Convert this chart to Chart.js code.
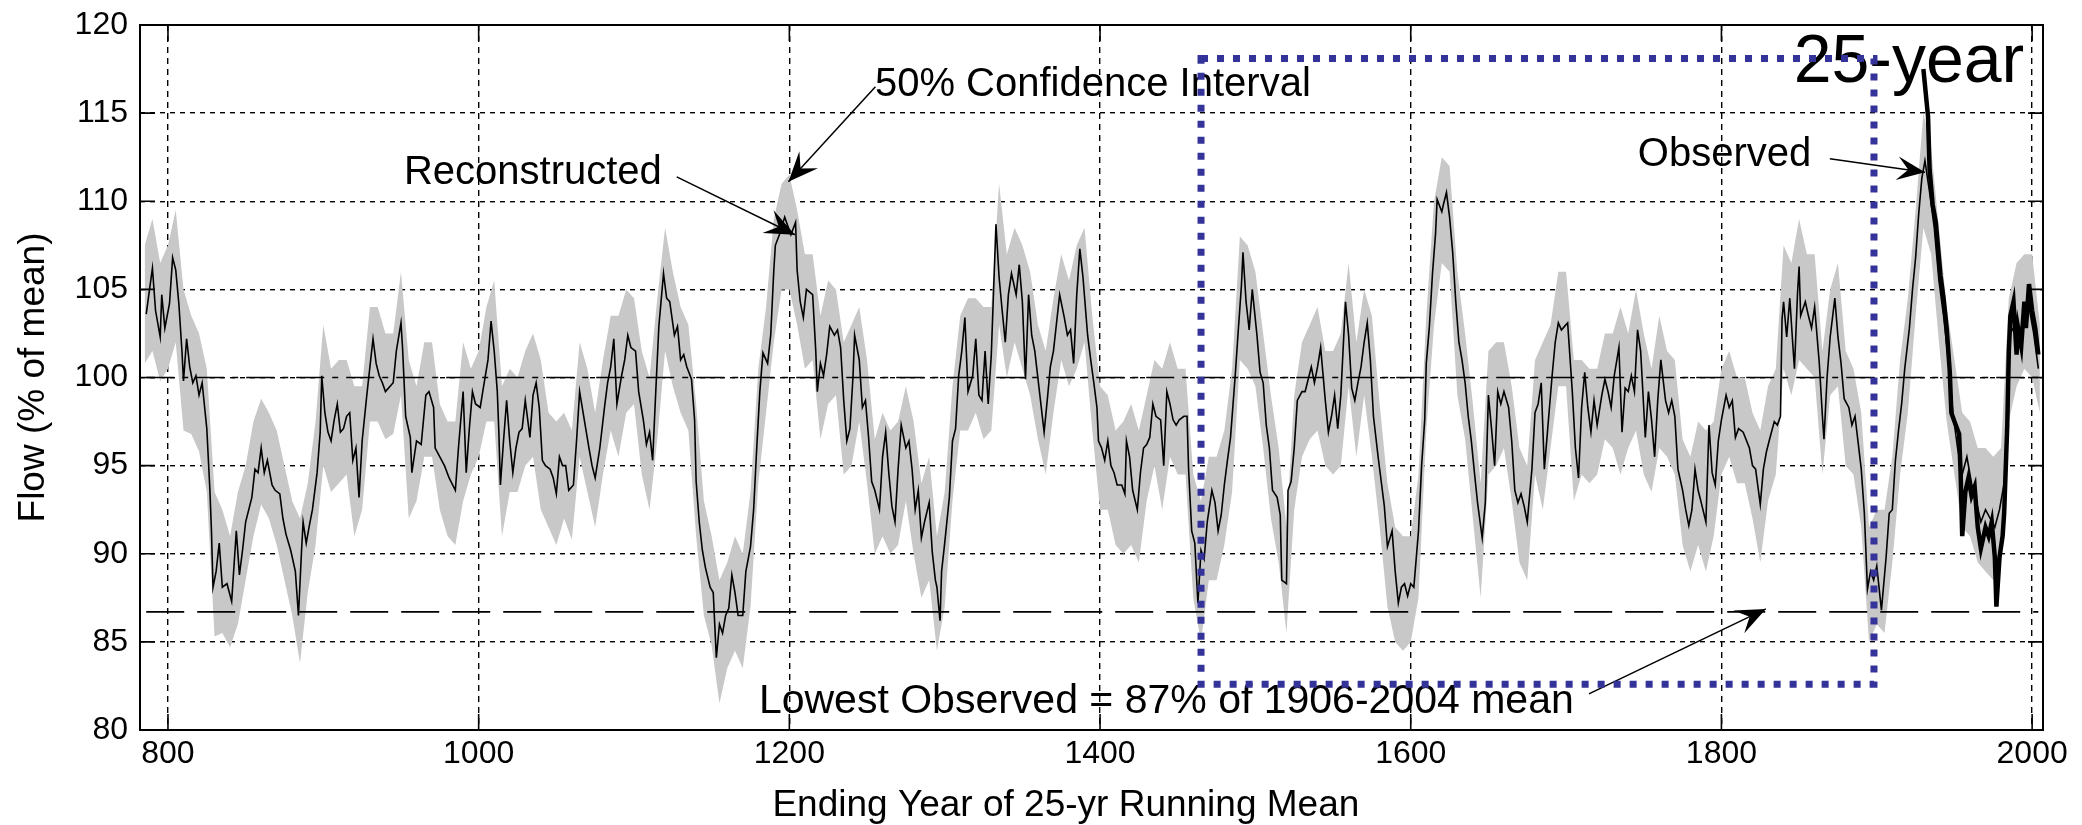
<!DOCTYPE html>
<html>
<head>
<meta charset="utf-8">
<title>Flow, 25-yr running mean</title>
<script src="https://cdn.jsdelivr.net/npm/chart.js@4.4.1/dist/chart.umd.min.js"></script>
<style>
  html, body { margin: 0; padding: 0; background: #fff; }
</style>
</head>
<body>
<canvas id="chart_canvas" width="2082" height="825"></canvas>
<script>
// ending year of the 25-yr running mean, reconstructed flow (% of mean)
const reconYears = [
  786,790,792,795,796,798,801,803,805,807, 809,810,812,814,816,818,820,822,825,827,
  828,829,831,833,835,838,841,844,846,848, 850,854,856,858,860,862,864,867,869,872,
  874,876,879,882,884,886,887,889,891,893, 896,898,899,901,903,905,907,909,911,913,
  915,917,919,921,923,925,928,930,932,934, 936,938,940,943,945,947,950,951,953,956,
  957,960,963,966,968,971,972,975,978,981, 985,987,990,992,994,996,998,1001,1003,1006,
  1008,1010,1012,1013,1014,1016,1018,1020,1022,1024, 1026,1028,1030,1033,1035,1037,1039,1041,1043,1046,
  1048,1050,1052,1054,1056,1058,1061,1063,1065,1068, 1071,1073,1075,1078,1081,1083,1085,1087,1089,1092,
  1094,1096,1098,1101,1103,1106,1108,1110,1112,1114, 1116,1119,1121,1123,1126,1128,1130,1132,1134,1137,
  1139,1140,1142,1144,1146,1149,1151,1153,1155,1157, 1159,1161,1163,1165,1167,1170,1172,1175,1177,1179,
  1181,1183,1186,1188,1190,1191,1194,1197,1201,1204, 1205,1207,1209,1211,1215,1217,1218,1220,1222,1224,
  1226,1229,1231,1233,1235,1237,1239,1241,1242,1245, 1247,1249,1251,1253,1255,1258,1260,1262,1264,1266,
  1268,1270,1272,1275,1277,1279,1281,1283,1285,1287, 1290,1292,1294,1295,1297,1298,1300,1303,1305,1307,
  1309,1311,1313,1315,1318,1320,1322,1324,1326,1328, 1330,1333,1335,1337,1339,1341,1343,1346,1348,1350,
  1352,1354,1356,1358,1361,1364,1366,1368,1370,1372, 1374,1377,1379,1381,1383,1385,1387,1389,1392,1394,
  1396,1398,1399,1401,1403,1405,1407,1409,1411,1414, 1416,1417,1419,1421,1424,1426,1428,1430,1432,1434,
  1436,1439,1441,1443,1445,1447,1449,1451,1454,1456, 1457,1459,1461,1463,1465,1467,1469,1472,1474,1476,
  1478,1480,1482,1484,1487,1489,1491,1492,1494,1496, 1498,1501,1503,1505,1507,1509,1511,1514,1516,1517,
  1520,1521,1523,1525,1527,1530,1532,1534,1536,1538, 1540,1542,1545,1547,1549,1551,1553,1555,1558,1560,
  1562,1564,1566,1568,1570,1572,1574,1576,1579,1581, 1583,1585,1588,1590,1592,1594,1596,1598,1600,1602,
  1605,1607,1609,1610,1612,1614,1616,1617,1620,1621, 1623,1625,1627,1629,1631,1633,1635,1637,1639,1641,
  1643,1646,1648,1650,1652,1654,1656,1658,1660,1663, 1665,1667,1669,1671,1673,1675,1678,1680,1682,1684,
  1686,1688,1691,1693,1695,1697,1699,1701,1704,1706, 1708,1710,1712,1714,1716,1718,1720,1723,1725,1727,
  1729,1731,1734,1736,1738,1740,1742,1744,1746,1748, 1751,1753,1755,1757,1759,1761,1764,1766,1768,1770,
  1772,1775,1777,1779,1781,1783,1785,1787,1790,1792, 1794,1796,1798,1800,1803,1805,1807,1809,1811,1814,
  1818,1820,1822,1825,1827,1829,1831,1834,1836,1838, 1839,1840,1842,1844,1846,1847,1849,1850,1851,1854,
  1856,1858,1860,1863,1865,1866,1868,1870,1873,1875, 1877,1879,1882,1884,1886,1888,1890,1892,1894,1896,
  1898,1900,1903,1906,1908,1910,1912,1914,1916,1918, 1921,1923,1925,1927,1929,1931,1934,1937,1940,1943,
  1946,1949,1952,1955,1958,1961,1964,1967,1970,1973, 1976,1979,1982,1984,1986,1989,1992,1995,1998,2001,
  2004
];
const reconFlow = [
  103.6,106.2,103.8,102.3,104.7,102.8,104.2,106.8,106.1,104.2, 101.5,99.8,102.2,100.6,99.7,100.1,99.0,99.7,97.1,93.6,
  91.3,88.1,89.0,90.6,88.1,88.3,87.3,91.3,88.8,90.2, 91.8,93.2,94.8,94.6,96.0,94.6,95.3,93.9,93.6,93.4,
  92.0,91.1,90.2,89.0,86.5,90.2,91.8,90.6,91.6,92.5, 94.6,96.9,100.1,98.0,96.9,96.4,97.6,98.5,96.9,97.1,
  97.8,98.0,95.3,96.0,93.2,96.4,99.0,100.6,102.2,100.8, 100.1,99.7,99.2,99.5,99.7,101.5,103.1,101.7,97.8,96.6,
  94.6,96.4,96.2,99.0,99.2,98.3,96.0,95.5,95.0,94.3, 93.6,96.0,99.2,94.6,97.1,99.2,98.5,98.3,99.4,101.0,
  103.2,101.5,99.2,96.9,93.9,96.4,98.7,96.4,94.6,96.0, 96.9,97.1,98.7,96.6,99.0,99.7,98.3,95.3,95.0,94.8,
  94.3,93.4,95.5,95.0,95.0,93.6,93.9,96.4,99.2,97.6, 96.0,95.0,94.3,96.0,98.3,99.7,100.6,102.2,98.5,100.1,
  101.0,102.4,101.7,101.5,99.2,97.6,96.2,96.9,95.3,99.2, 102.9,105.9,104.5,104.3,102.4,102.9,101.0,101.3,100.6,99.9,
  97.6,94.1,91.8,90.2,89.2,88.1,87.8,84.1,86.0,85.5, 86.5,86.9,88.8,87.8,86.5,86.5,89.0,90.4,92.5,96.0,
  99.2,101.4,100.8,102.4,106.1,107.5,108.2,109.1,108.1,108.8, 106.1,104.3,103.4,105.0,104.7,101.5,99.2,100.8,100.1,101.3,
  102.9,102.4,102.7,101.7,98.7,96.4,97.1,100.1,102.4,101.0, 98.3,98.7,96.6,94.1,93.6,92.5,95.5,96.9,94.6,92.7,
  91.8,94.8,97.3,96.0,96.4,94.8,92.5,93.6,90.9,91.8, 92.9,90.1,88.5,88.1,86.2,89.0,90.6,93.2,96.4,97.1,
  100.1,101.5,103.4,99.2,100.1,102.2,99.0,98.7,101.5,98.5, 101.3,108.7,105.7,103.8,102.0,104.7,105.9,104.7,106.4,104.3,
  99.9,104.7,102.4,101.5,99.2,96.9,98.7,100.6,101.5,103.1, 104.7,103.4,102.4,102.7,100.8,104.7,107.3,105.7,102.4,101.0,
  99.7,98.3,96.4,96.0,95.3,96.4,95.0,94.6,93.9,93.9, 93.4,96.4,95.5,93.6,92.5,94.6,96.0,96.2,96.6,98.5,
  97.8,97.6,95.0,99.2,98.5,97.6,97.3,97.6,97.8,97.8, 94.8,91.3,90.6,87.2,90.2,89.7,91.8,93.6,92.9,91.3,
  92.2,93.9,95.3,96.6,100.1,102.7,105.2,107.1,104.3,102.7, 105.0,102.4,100.3,99.7,97.3,96.0,93.6,93.2,92.2,88.5,
  88.3,93.6,94.1,96.0,98.7,99.2,99.2,99.9,100.6,99.7, 100.6,101.7,98.7,96.9,97.8,99.0,97.1,99.0,104.3,102.4,
  99.4,98.7,99.7,100.6,102.0,103.1,101.0,97.8,95.5,94.1, 92.7,90.4,91.3,89.0,87.2,88.1,88.3,87.6,88.3,88.1,
  91.3,95.0,97.6,100.8,102.9,105.9,108.2,110.1,109.4,109.8, 110.5,109.1,107.1,104.3,102.0,101.0,99.7,97.8,96.4,94.6,
  92.9,90.9,92.9,99.0,97.1,95.0,99.2,98.5,99.2,98.3, 96.4,93.6,92.9,93.4,92.7,91.8,94.8,98.0,98.5,99.7,
  94.8,96.9,100.1,102.0,103.1,102.7,102.9,103.1,99.2,96.0, 94.3,98.3,100.3,98.3,96.9,98.7,97.3,99.0,99.9,99.2,
  98.3,100.1,101.7,96.9,99.4,99.2,100.1,99.2,102.7,101.5, 96.6,99.2,97.6,95.5,98.7,101.0,98.7,98.0,98.7,97.8,
  94.8,93.6,92.5,91.6,92.5,94.8,93.6,92.9,91.8,97.3, 94.6,93.9,96.4,97.6,99.0,98.3,98.7,96.6,97.1,96.9,
  96.0,95.0,94.8,92.8,94.8,95.8,96.5,97.5,97.3,97.8, 103.3,104.3,102.3,104.5,101.8,100.5,104.8,106.3,103.5,104.3,
  103.5,102.8,104.0,100.8,97.8,96.5,100.0,102.3,104.5,102.3, 100.8,98.8,98.3,97.3,97.8,96.3,94.8,92.3,88.0,89.0,
  88.5,89.3,86.8,89.8,92.3,92.5,95.3,97.0,98.5,100.5, 102.8,105.0,106.8,109.3,111.3,112.3,110.5,108.5,105.5,103.5,
  101.0,98.0,96.0,94.5,95.5,94.0,93.0,91.8,92.5,92.0, 91.5,92.5,94.0,98.0,102.5,103.0,102.0,103.5,104.0,102.5,
  100.5
];

// 50% confidence interval of the reconstruction (grey band)
const bandYears = [
  785,790,795,800,805,810,815,820,825,830, 835,840,845,850,855,860,865,870,875,880,
  885,890,895,900,905,910,915,920,925,930, 935,940,945,950,955,960,965,970,975,980,
  985,990,995,1000,1005,1010,1015,1020,1025,1030, 1035,1040,1045,1050,1055,1060,1065,1070,1075,1080,
  1085,1090,1095,1100,1105,1110,1115,1120,1125,1130, 1135,1140,1145,1150,1155,1160,1165,1170,1175,1180,
  1185,1190,1195,1200,1205,1210,1215,1220,1225,1230, 1235,1240,1245,1250,1255,1260,1265,1270,1275,1280,
  1285,1290,1295,1300,1305,1310,1315,1320,1325,1330, 1335,1340,1345,1350,1355,1360,1365,1370,1375,1380,
  1385,1390,1395,1400,1405,1410,1415,1420,1425,1430, 1435,1440,1445,1450,1455,1460,1465,1470,1475,1480,
  1485,1490,1495,1500,1505,1510,1515,1520,1525,1530, 1535,1540,1545,1550,1555,1560,1565,1570,1575,1580,
  1585,1590,1595,1600,1605,1610,1615,1620,1625,1630, 1635,1640,1645,1650,1655,1660,1665,1670,1675,1680,
  1685,1690,1695,1700,1705,1710,1715,1720,1725,1730, 1735,1740,1745,1750,1755,1760,1765,1770,1775,1780,
  1785,1790,1795,1800,1805,1810,1815,1820,1825,1830, 1835,1840,1845,1850,1855,1860,1865,1870,1875,1880,
  1885,1890,1895,1900,1905,1910,1915,1920,1925,1930, 1935,1940,1945,1950,1955,1960,1965,1970,1975,1980,
  1985,1990,1995,2000,2005
];
const bandUpper = [
  107.5,109.0,106.5,107.5,109.5,105.0,103.5,102.5,100.5,93.5, 92.5,91.0,93.5,95.0,97.5,98.8,98.0,97.0,95.0,93.0,
  92.0,94.0,97.5,103.0,100.5,101.0,101.0,99.5,99.5,104.0, 104.0,102.5,102.5,106.0,101.0,99.5,102.0,102.0,98.5,97.5,
  97.5,102.0,100.5,101.5,104.0,105.5,99.5,100.5,100.0,101.5, 102.5,101.0,98.0,97.5,98.0,97.0,102.0,100.5,98.0,101.0,
  103.5,103.5,105.0,104.5,101.5,100.0,104.5,108.5,106.0,104.0, 103.0,98.5,93.0,91.0,88.5,89.5,91.0,90.0,93.5,100.5,
  104.0,109.0,111.0,111.5,109.5,107.0,107.0,103.5,105.5,105.0, 102.0,103.0,104.0,101.0,96.5,98.0,97.0,97.5,99.5,97.5,
  94.0,95.5,91.0,93.5,99.5,103.5,104.5,104.5,104.0,104.0, 111.0,107.0,108.5,107.5,106.0,103.0,101.5,104.5,107.0,105.5,
  107.5,108.5,103.5,99.5,99.0,97.0,97.5,98.5,97.0,99.0, 101.0,100.5,102.0,100.5,100.5,94.5,93.0,95.5,95.5,97.0,
  100.5,108.0,107.5,106.0,102.5,99.0,96.0,91.5,99.0,102.0, 103.0,104.0,101.5,101.5,102.5,106.5,102.0,105.0,103.5,98.5,
  94.0,91.5,91.0,91.0,94.5,103.5,110.0,112.5,112.0,106.0, 102.5,98.5,94.0,101.5,102.0,102.0,99.5,96.0,95.0,101.0,
  102.0,103.0,106.0,106.0,101.0,101.0,100.5,100.5,102.5,102.5, 104.0,102.5,105.0,102.5,100.5,103.5,101.5,101.0,96.5,95.5,
  97.5,97.0,97.5,100.5,101.5,100.0,100.0,98.0,97.0,99.5, 100.5,107.5,106.5,109.0,107.0,107.0,101.5,105.0,106.5,101.5,
  100.5,98.0,91.5,92.5,92.5,95.5,101.0,104.5,109.5,115.0, 113.0,108.5,104.0,101.0,98.0,97.5,96.0,96.0,95.5,96.0,
  104.5,106.5,107.0,107.0,103.0
];
const bandLower = [
  100.8,101.5,99.8,100.5,102.0,97.0,96.8,95.8,93.5,85.3, 85.5,84.7,86.0,88.5,91.0,92.8,92.0,90.5,88.5,86.5,
  83.8,87.8,90.5,95.0,93.5,94.0,94.5,91.0,92.5,97.5, 97.5,96.5,96.8,99.0,92.0,93.0,95.5,95.5,92.5,91.0,
  90.5,93.0,94.5,95.5,97.5,97.5,91.0,93.5,93.5,95.0, 95.5,92.5,91.5,90.5,92.0,90.8,95.5,93.5,91.5,94.5,
  97.0,95.5,98.0,98.5,94.5,92.5,96.5,101.5,99.5,98.0, 97.0,91.0,86.5,84.8,81.5,83.5,84.5,83.5,87.0,94.0,
  98.0,102.0,105.0,105.0,103.0,100.5,101.0,96.5,98.5,99.0, 94.5,95.0,97.5,94.0,90.0,91.0,90.0,90.5,93.0,90.0,
  87.5,88.5,84.5,87.0,93.0,97.0,97.0,98.0,96.5,97.0, 103.0,100.0,102.0,100.5,99.0,96.5,94.5,98.0,101.0,99.5,
  100.5,102.0,97.0,92.5,92.5,90.5,90.0,90.5,89.5,93.0, 95.0,92.5,95.5,94.5,94.5,87.5,85.0,88.5,88.5,90.5,
  93.5,101.0,100.5,99.5,96.0,92.0,89.5,85.5,92.5,95.5, 96.5,97.0,95.0,94.5,95.0,99.5,95.5,99.0,95.5,91.5,
  87.0,85.0,84.5,85.0,87.5,97.0,103.0,106.5,106.0,99.0, 96.5,92.0,87.5,94.5,95.0,96.0,93.0,89.5,88.5,94.5,
  92.5,96.0,99.5,99.5,93.0,94.5,94.0,94.5,96.5,96.0, 94.5,96.0,97.0,94.5,93.5,96.0,95.5,94.5,90.5,89.0,
  90.5,89.0,91.0,94.5,95.5,94.0,94.0,92.0,89.5,93.0, 94.5,100.5,99.0,101.0,100.5,100.0,94.5,99.0,99.5,95.0,
  94.5,91.5,85.0,86.0,85.5,89.5,94.5,98.0,103.5,108.5, 107.0,102.0,97.5,94.5,91.5,91.0,89.5,89.0,88.5,89.5,
  97.5,99.5,100.5,100.0,98.0
];

// observed flow, 25-yr running mean (thick line)
const obsYears = [
  1930,1933,1934,1936,1938,1939,1941,1943,1945,1947, 1948,1950,1953,1954,1955,1957,1959,1961,1963,1965,
  1967,1970,1972,1974,1976,1977,1979,1981,1982,1984, 1985,1986,1988,1990,1991,1993,1995,1996,1998,2000,
  2002,2004
];
const obsFlow = [
  117.5,114.8,111.8,109.8,108.8,107.8,105.8,104.5,102.8,100.3, 98.0,97.5,96.8,94.5,91.0,93.5,94.3,93.3,93.8,91.5,
  90.3,91.5,91.0,91.8,89.8,87.0,89.8,91.0,92.3,97.3, 101.5,103.5,104.3,101.3,102.8,101.8,104.3,102.8,105.3,103.8,
  102.8,101.3
];

// reference levels
const refYears = [786, 2004];
const meanLevel = [100, 100];
const lowestObserved = [86.7, 86.7];

const xTicks = [800, 1000, 1200, 1400, 1600, 1800, 2000];
const yTicks = [80, 85, 90, 95, 100, 105, 110, 115, 120];

const FONT = "'Liberation Sans', Arial, Helvetica, sans-serif";

function toPoints(xs, ys)
{
  return xs.map((x, i) => ({x: x, y: ys[i]}));
}

function drawArrow(ctx, x1, y1, x2, y2, head)
{
  ctx.beginPath();
  ctx.moveTo(x1, y1);
  ctx.lineTo(x2, y2);
  ctx.stroke();
  const a = Math.atan2(y2 - y1, x2 - x1);
  const c = Math.cos(a), s = Math.sin(a);
  const w = head * 0.42;
  ctx.beginPath();
  ctx.moveTo(x2, y2);
  ctx.lineTo(x2 - head * c + w * s, y2 - head * s - w * c);
  ctx.lineTo(x2 - head * 0.6 * c, y2 - head * 0.6 * s);
  ctx.lineTo(x2 - head * c - w * s, y2 - head * s + w * c);
  ctx.closePath();
  ctx.fill();
}

// box, inner ticks, labels, arrows and the dotted highlight box
const overlay = {
  id: "overlay",
  afterDraw(chart)
  {
    const ctx = chart.ctx;
    const a = chart.chartArea;
    const xs = chart.scales.x, ys = chart.scales.y;
    const px = v => xs.getPixelForValue(v);
    const py = v => ys.getPixelForValue(v);

    ctx.save();
    ctx.strokeStyle = "#000";
    ctx.fillStyle = "#000";

    // inner tick marks on all four sides
    ctx.lineWidth = 1.6;
    ctx.setLineDash([]);
    ctx.beginPath();
    yTicks.forEach(v => {
      const y = py(v);
      ctx.moveTo(a.left, y); ctx.lineTo(a.left + 15, y);
      ctx.moveTo(a.right, y); ctx.lineTo(a.right - 15, y);
    });
    xTicks.forEach(v => {
      const x = px(v);
      ctx.moveTo(x, a.bottom); ctx.lineTo(x, a.bottom - 16);
      ctx.moveTo(x, a.top); ctx.lineTo(x, a.top + 16);
    });
    ctx.stroke();

    // plot box
    ctx.lineWidth = 2;
    ctx.strokeRect(a.left, a.top, a.right - a.left, a.bottom - a.top);

    // x axis title, centred a little left of the plot centre as in the original
    ctx.textAlign = "center";
    ctx.textBaseline = "alphabetic";
    ctx.font = "37px " + FONT;
    ctx.fillText("Ending Year of 25-yr Running Mean", px(1378), 816);

    // labels
    ctx.textAlign = "left";
    ctx.font = "40px " + FONT;
    ctx.fillText("Reconstructed", px(951.9), py(111.0));
    ctx.fillText("50% Confidence Interval", px(1255.1), py(116.0));
    ctx.fillText("Observed", px(1746.2), py(112.0));
    ctx.font = "41px " + FONT;
    ctx.fillText("Lowest Observed = 87% of 1906-2004 mean", px(1180.4), py(80.97));
    ctx.font = "68px " + FONT;
    ctx.fillText("25-year", px(1846.5), py(116.75));

    // arrows
    ctx.lineWidth = 1.5;
    drawArrow(ctx, px(1127.5), py(111.38), px(1203.6), py(108.1), 30);
    drawArrow(ctx, px(1255.4), py(116.5), px(1199.4), py(111.1), 30);
    drawArrow(ctx, px(1869.8), py(112.41), px(1931.0), py(111.65), 28);
    drawArrow(ctx, px(1714.7), py(82.05), px(1828.6), py(86.87), 30);

    // dotted highlight box
    ctx.strokeStyle = "#333399";
    ctx.lineWidth = 7;
    ctx.setLineDash([7, 9]);
    const bx1 = px(1465), bx2 = px(1898.2), by1 = py(118.1), by2 = py(82.6);
    ctx.strokeRect(bx1, by1, bx2 - bx1, by2 - by1);

    ctx.restore();
  }
};

var options =
{
  responsive: false,
  animation: false,
  events: [],
  layout: { padding: { left: 0, top: 25, right: 39, bottom: 0 } },
  plugins: {
    legend: { display: false },
    tooltip: { enabled: false }
  },
  elements: {
    point: { radius: 0, hoverRadius: 0 },
    line: { tension: 0 }
  },
  scales:
  {
    x: {
      type: "linear",
      min: 782,
      max: 2007,
      afterBuildTicks: s => { s.ticks = xTicks.map(v => ({value: v})); },
      afterFit: s => { s.height = 95; s.paddingLeft = 0; s.paddingRight = 0; },
      grid: { color: "#000", lineWidth: 1.4, drawTicks: false },
      border: { display: false, dash: [6, 5] },
      ticks: { font: { family: FONT, size: 32 }, color: "#000", padding: 5, maxRotation: 0,
               callback: v => String(v) },
      title: { display: false }
    },
    y: {
      min: 80,
      max: 120,
      afterBuildTicks: s => { s.ticks = yTicks.map(v => ({value: v})); },
      // fixed axis width; keep the tick labels from pushing the plot top down
      afterFit: s => { s.width = 140; s.paddingTop = 0; s.paddingBottom = 0; },
      grid: { color: "#000", lineWidth: 1.4, drawTicks: false },
      border: { display: false, dash: [5, 5] },
      ticks: { font: { family: FONT, size: 32 }, color: "#000", padding: 12,
               callback: v => String(v) },
      title: { display: true, text: "Flow (% of mean)", color: "#000",
               font: { family: FONT, size: 37 }, padding: { top: 12, bottom: 0 } }
    }
  }
};

const config =
{
  type: "line",
  data: {
    datasets: [
      { label: "50% Confidence Interval (upper)", data: toPoints(bandYears, bandUpper),
        borderColor: "rgba(0,0,0,0)", borderWidth: 0, backgroundColor: "#c8c8c8", fill: "+1", order: 6 },
      { label: "50% Confidence Interval (lower)", data: toPoints(bandYears, bandLower),
        borderColor: "rgba(0,0,0,0)", borderWidth: 0, fill: false, order: 6 },
      { label: "Mean", data: toPoints(refYears, meanLevel),
        borderColor: "#000", borderWidth: 1.6, borderDash: [28, 8, 6, 8], fill: false, order: 4 },
      { label: "Lowest Observed", data: toPoints(refYears, lowestObserved),
        borderColor: "#000", borderWidth: 1.8, borderDash: [38, 13], fill: false, order: 4 },
      { label: "Reconstructed", data: toPoints(reconYears, reconFlow),
        borderColor: "#000", borderWidth: 1.6, fill: false, order: 2 },
      { label: "Observed", data: toPoints(obsYears, obsFlow),
        borderColor: "#000", borderWidth: 4.5, fill: false, order: 1 }
    ]
  },
  options: options,
  plugins: [overlay]
};

new Chart(document.getElementById("chart_canvas"), config);
</script>
</body>
</html>
